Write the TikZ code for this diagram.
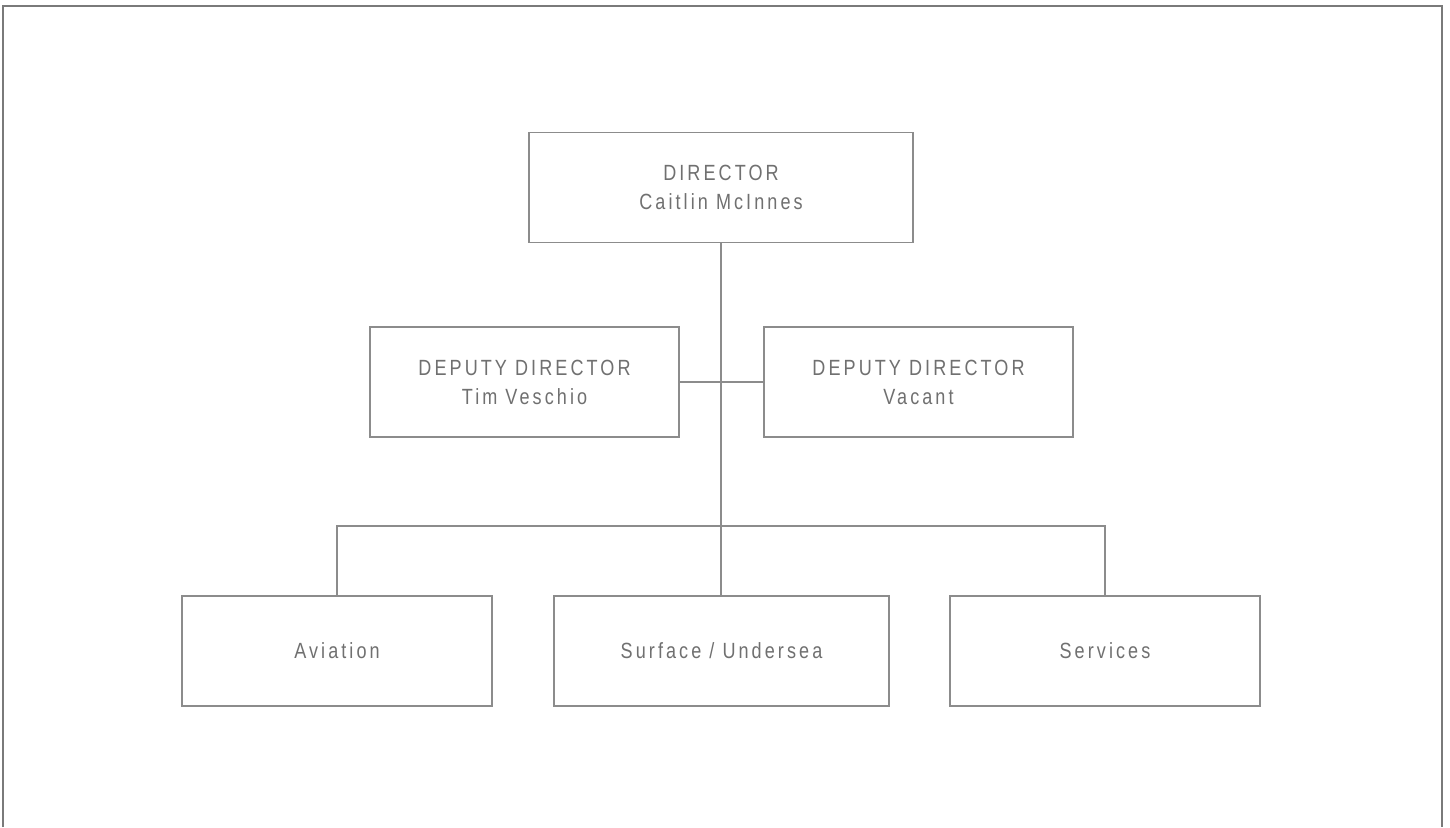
\documentclass[tikz,border=0pt]{standalone}
\usepackage{fontspec}
\setmainfont[LetterSpace=14,FakeStretch=0.82]{Liberation Sans}
\definecolor{boxline}{HTML}{8C8C8C}
\definecolor{boxtext}{HTML}{707070}
\definecolor{frameline}{HTML}{7A7A7A}
\begin{document}
\begin{tikzpicture}[x=0.5pt,y=-0.5pt,
        orgbox/.style={draw=boxline,line width=0.6pt,fill=white,inner sep=0pt,
            minimum height=55pt,align=center,text=boxtext,
            font=\fontsize{11}{14.5}\selectfont},
        link/.style={draw=boxline,line width=0.6pt}]
        \useasboundingbox (0,0) rectangle (1450,827);
        % frame, open at the bottom
        \draw[frameline,line width=1pt] (2.5,827) -- (2.5,5.5) -- (1442,5.5) -- (1442,827);
        % boxes
        \node[orgbox,minimum width=192pt] (dir) at (721,187.5) {DIRECTOR\\Caitlin McInnes};
        \node[orgbox,minimum width=154.5pt] (dl) at (524.5,382) {DEPUTY DIRECTOR\\Tim Veschio};
        \node[orgbox,minimum width=154.5pt] (dr) at (918.5,382) {DEPUTY DIRECTOR\\Vacant};
        \node[orgbox,minimum width=155pt] (avi) at (337,651) {Aviation};
        \node[orgbox,minimum width=167.5pt] (surf) at (721.5,651) {Surface / Undersea};
        \node[orgbox,minimum width=155pt] (serv) at (1105,651) {Services};
        \coordinate (bus) at (721,526);
        % connectors
        \draw[link] (dir.south) -- (dir.south |- surf.north);
        \draw[link] (dl.east) -- (dr.west);
        \draw[link] (avi.north) |- (bus) -| (serv.north);
\end{tikzpicture}
\end{document}
